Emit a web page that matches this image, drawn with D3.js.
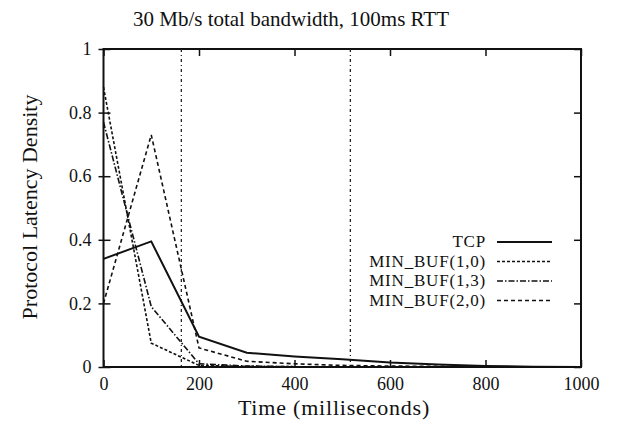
<!DOCTYPE html>
<html>
<head>
<meta charset="utf-8">
<script src="https://cdn.jsdelivr.net/npm/d3@7"></script>
<style>
  body { margin: 0; background: #fff; }
  text { font-family: "Liberation Serif", "DejaVu Serif", serif; fill: #111; }
</style>
</head>
<body>
<script>
// values
const times = [0, 100, 200, 300, 400, 500, 600, 700, 800, 900, 1000];
const tcp = [0.34, 0.395, 0.095, 0.045, 0.033, 0.024, 0.014, 0.008, 0.003, 0.001, 0];
const minBuf10 = [0.88, 0.075, 0.005, 0.002, 0.001, 0, 0, 0, 0, 0, 0];
const minBuf13 = [0.77, 0.19, 0.01, 0.003, 0.001, 0, 0, 0, 0, 0, 0];
const minBuf20 = [0.2, 0.73, 0.06, 0.018, 0.01, 0.005, 0.003, 0.002, 0.001, 0, 0];
const seriesNames = ["TCP", "MIN_BUF(1,0)", "MIN_BUF(1,3)", "MIN_BUF(2,0)"];
const markers = [163, 517];
const xTicks = [0, 200, 400, 600, 800, 1000];
const yTicks = [0, 0.2, 0.4, 0.6, 0.8, 1];

const width = 618, height = 428;
const m = { left: 103.5, right: 37, top: 49, bottom: 61 };

const svg = d3.select("body").append("svg")
  .attr("width", width)
  .attr("height", height);

const x = d3.scaleLinear().domain([0, 1000]).range([m.left, width - m.right]);
const y = d3.scaleLinear().domain([0, 1]).range([height - m.bottom, m.top]);

const series = [tcp, minBuf10, minBuf13, minBuf20].map((vals, i) => ({
  name: seriesNames[i],
  values: vals.map((v, j) => [times[j], v])
}));
const dashes = [null, "3,2", "6,2,1.5,2", "4,3"];

// title
svg.append("text")
  .attr("x", 291).attr("y", 26)
  .attr("text-anchor", "middle")
  .attr("font-size", 21)
  .text("30 Mb/s total bandwidth, 100ms RTT");

// axes with gnuplot-ish inward ticks
const axBottom = svg.append("g")
  .attr("transform", `translate(0,${y(0)})`)
  .call(d3.axisBottom(x).tickValues(xTicks).tickSize(-7).tickPadding(10).tickFormat(d3.format("d")));
const axTop = svg.append("g")
  .attr("transform", `translate(0,${y(1)})`)
  .call(d3.axisTop(x).tickValues(xTicks).tickSize(-7).tickFormat(""));
const axLeft = svg.append("g")
  .attr("transform", `translate(${x(0)},0)`)
  .call(d3.axisLeft(y).tickValues(yTicks).tickSizeInner(-7).tickSizeOuter(0).tickPadding(12).tickFormat(d => d));
const axRight = svg.append("g")
  .attr("transform", `translate(${x(1000)},0)`)
  .call(d3.axisRight(y).tickValues(yTicks).tickSize(-7).tickFormat(""));

[axBottom, axTop, axLeft, axRight].forEach(g => {
  g.select(".domain").remove();
  g.selectAll("line").attr("stroke", "#111").attr("stroke-width", 1.5);
  g.selectAll("text").attr("font-size", 18).attr("font-family", "Liberation Serif");
});
// small outward stubs on the left ticks
axLeft.selectAll(".tick").append("line")
  .attr("x1", -5).attr("x2", 0)
  .attr("stroke", "#111").attr("stroke-width", 1.5);

// frame
svg.append("rect")
  .attr("x", x(0)).attr("y", y(1))
  .attr("width", x(1000) - x(0)).attr("height", y(0) - y(1))
  .attr("fill", "none").attr("stroke", "#111").attr("stroke-width", 2);

// vertical markers
svg.selectAll(".marker").data(markers).enter().append("line")
  .attr("class", "marker")
  .attr("x1", d => x(d)).attr("x2", d => x(d))
  .attr("y1", y(1)).attr("y2", y(0))
  .attr("stroke", "#222").attr("stroke-width", 1.3)
  .attr("stroke-dasharray", "3,3,1,3");

const line = d3.line().x(d => x(d[0])).y(d => y(d[1]));

svg.selectAll(".series").data(series).enter().append("path")
  .attr("class", "series")
  .attr("d", d => line(d.values))
  .attr("fill", "none")
  .attr("stroke", "#111")
  .attr("stroke-width", (d, i) => i === 0 ? 2 : 1.6)
  .attr("stroke-dasharray", (d, i) => dashes[i]);

// legend
const legend = svg.append("g");
series.forEach((s, i) => {
  const ly = 247 + i * 19.5;
  legend.append("text")
    .attr("x", 486).attr("y", ly)
    .attr("text-anchor", "end")
    .attr("font-size", 17)
    .attr("letter-spacing", 0.8)
    .text(s.name);
  legend.append("line")
    .attr("x1", 497).attr("x2", 552)
    .attr("y1", ly - 5).attr("y2", ly - 5)
    .attr("stroke", "#111")
    .attr("stroke-width", i === 0 ? 2 : 1.6)
    .attr("stroke-dasharray", dashes[i]);
});

// axis titles
svg.append("text")
  .attr("x", 334).attr("y", 415)
  .attr("text-anchor", "middle")
  .attr("font-size", 22)
  .attr("letter-spacing", 0.8)
  .text("Time (milliseconds)");

svg.append("text")
  .attr("transform", "translate(37,207) rotate(-90)")
  .attr("text-anchor", "middle")
  .attr("font-size", 22)
  .text("Protocol Latency Density");
</script>
</body>
</html>
